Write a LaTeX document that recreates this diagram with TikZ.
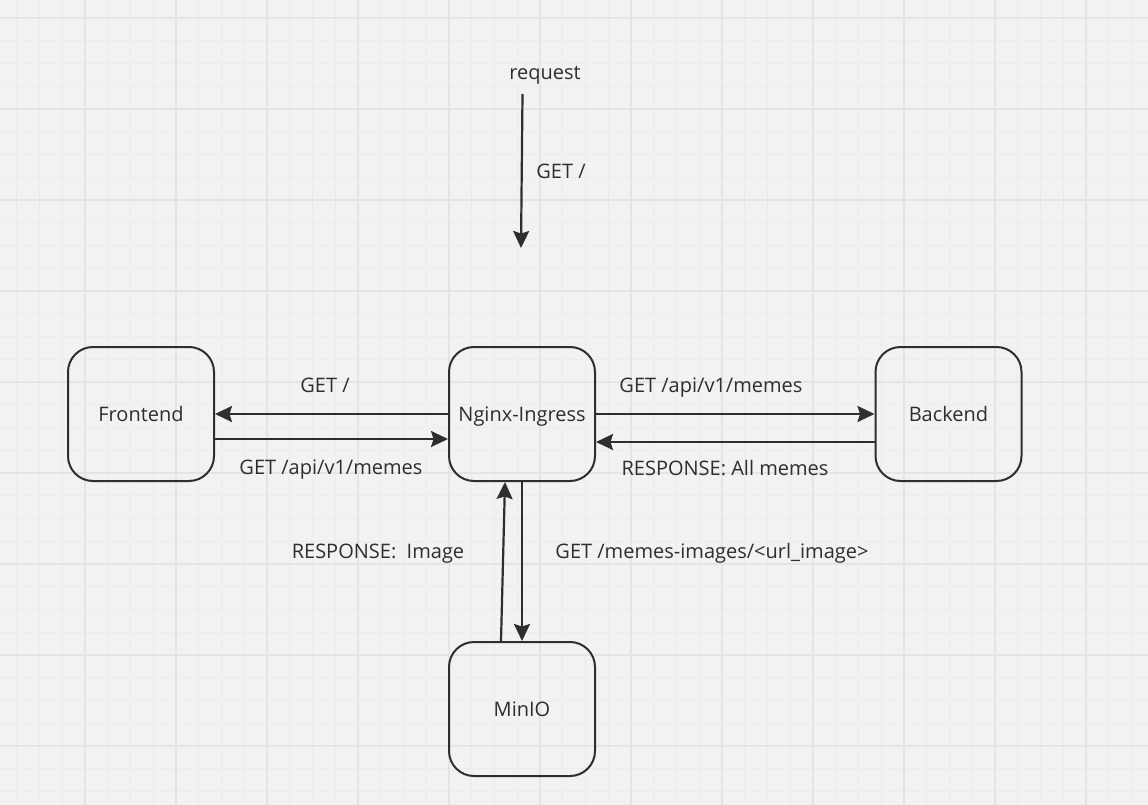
\documentclass[tikz,border=0pt]{standalone}
\usepackage{fontspec}
\setmainfont{Open Sans}
\usetikzlibrary{arrows.meta}
\definecolor{bg}{HTML}{F2F2F2}
\definecolor{gminor}{HTML}{ECECEC}
\definecolor{gmajor}{HTML}{E4E4E4}
\definecolor{ink}{HTML}{2E2E2E}
\tikzset{
  x=1pt, y=-1pt,
  box/.style={draw=ink, line width=2pt, rounded corners=25pt, minimum width=146pt, minimum height=134pt, inner sep=0pt, text=ink, text height=14.3pt, text depth=0pt, font=\fontsize{20}{24}\selectfont},
  lbl/.style={text=ink, inner sep=0pt, text height=14.3pt, text depth=0pt, font=\fontsize{20}{24}\selectfont},
  arr/.style={draw=ink, line width=2.2pt, -{Stealth[length=17pt, width=16pt, inset=2.5pt]}},
  minorline/.style={draw=gminor, line width=0.7pt},
  majorline/.style={draw=gmajor, line width=1.1pt}
}
\begin{document}
\begin{tikzpicture}
\useasboundingbox (0,0) rectangle (1148,805);
\fill[bg] (0,0) rectangle (1148,805);
\foreach \i in {0,...,51} {
  \draw[minorline] ({-6+22.75*\i},0) -- ++(0,805);
}
\foreach \i in {0,...,36} {
  \draw[minorline] (0,{-4.75+22.75*\i}) -- ++(1148,0);
}
\foreach \i in {0,...,12} {
  \draw[majorline] ({-6+91*\i},0) -- ++(0,805);
}
\foreach \i in {0,...,9} {
  \draw[majorline] (0,{18+91*\i}) -- ++(1148,0);
}
\node[box] (fe) at (141,414) {Frontend};
\node[box] (ng) at (522,414) {Nginx-Ingress};
\node[box] (be) at (948.5,414) {Backend};
\node[box] (mi) at (522,709) {MinIO};

\node[lbl] (req) at (545,72) {request};
\coordinate (reqtop) at (522.5,94);
\coordinate (reqend) at (521,248);
\draw[arr] (reqtop) -- (reqend);
\node[lbl] (lreq) at (561,171.5) {GET /};

\draw[arr] (ng.west) -- (fe.east);
\node[lbl] (l1) at (325,385) {GET /};
\draw[arr] ([yshift=-25pt]fe.east) -- ([yshift=-25pt]ng.west);
\node[lbl] (l2) at (331,467.5) {GET /api/v1/memes};

\draw[arr] (ng.east) -- (be.west);
\node[lbl] (l3) at (711,385.5) {GET /api/v1/memes};
\draw[arr] ([yshift=-28pt]be.west) -- ([yshift=-28pt]ng.east);
\node[lbl] (l4) at (725,468) {RESPONSE: All memes};

\draw[arr] ([xshift=-21pt]mi.north) -- ([xshift=-17pt]ng.south);
\draw[arr] (ng.south) -- (mi.north);
\node[lbl] (l5) at (378,551) {RESPONSE:\ \ Image};
\node[lbl] (l6) at (712,551) {GET /memes-images/<url\_image>};
\end{tikzpicture}
\end{document}
